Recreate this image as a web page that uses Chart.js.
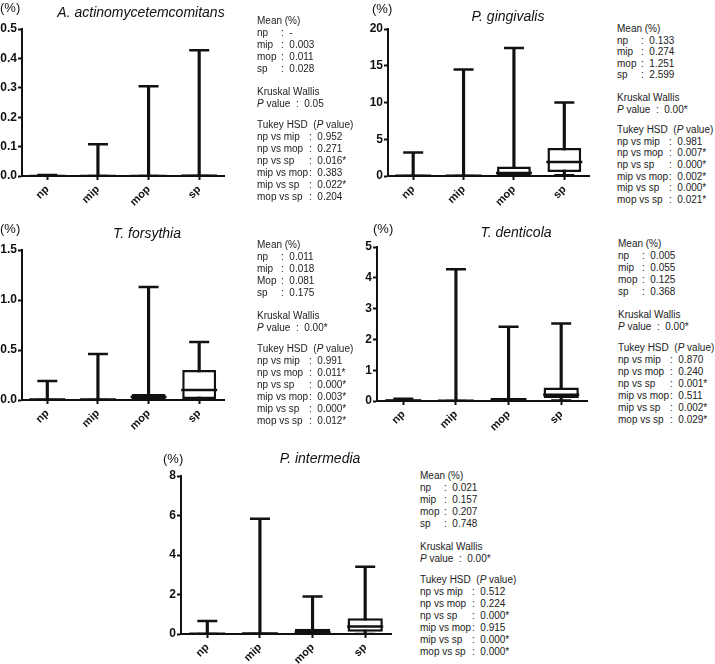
<!DOCTYPE html>
<html>
<head>
<meta charset="utf-8">
<script src="https://cdn.jsdelivr.net/npm/chart.js@4.4.0/dist/chart.umd.min.js"></script>
<style>
body { margin: 0; background: #fff; }
#fig { position: relative; width: 715px; height: 664px; font-family: Arial, "Liberation Sans", sans-serif; color: #111; overflow: hidden; }
.cv { position: absolute; }
.pct { position: absolute; font-size: 13px; transform: translateY(-50%); }
.ttl { position: absolute; font-size: 14px; font-style: italic; transform: translate(-50%, -50%); white-space: nowrap; }
.stats { position: absolute; font-size: 10px; line-height: 12px; white-space: pre; color: #222; }
.stats .lb { display: inline-block; }
</style>
</head>
<body>
<div id="fig">
  <canvas id="c1" class="cv" width="245" height="215" style="left:0px;top:0px"></canvas>
  <canvas id="c2" class="cv" width="250" height="215" style="left:360px;top:0px"></canvas>
  <canvas id="c3" class="cv" width="245" height="215" style="left:0px;top:222px"></canvas>
  <canvas id="c4" class="cv" width="253" height="215" style="left:355px;top:222px"></canvas>
  <canvas id="c5" class="cv" width="262" height="222" style="left:150px;top:442px"></canvas>

  <div class="pct" style="left:0px;top:7px">(%)</div>
  <div class="pct" style="left:372px;top:8px">(%)</div>
  <div class="pct" style="left:0px;top:228px">(%)</div>
  <div class="pct" style="left:373px;top:228px">(%)</div>
  <div class="pct" style="left:163px;top:458px">(%)</div>

  <div class="ttl" style="left:141px;top:12px">A. actinomycetemcomitans</div>
  <div class="ttl" style="left:508px;top:16px">P. gingivalis</div>
  <div class="ttl" style="left:147px;top:233px">T. forsythia</div>
  <div class="ttl" style="left:516px;top:232px">T. denticola</div>
  <div class="ttl" style="left:320px;top:458px">P. intermedia</div>

  <div id="s1" class="stats" style="left:257px;top:15px"></div>
  <div id="s2" class="stats" style="left:617px;top:23px"></div>
  <div id="s3" class="stats" style="left:257px;top:239px"></div>
  <div id="s4" class="stats" style="left:618px;top:238px"></div>
  <div id="s5" class="stats" style="left:420px;top:470px"></div>
</div>

<script>
// groups on the x axis
const categories = ['np', 'mip', 'mop', 'sp'];
const compLabels = ['np vs mip', 'np vs mop', 'np vs sp', 'mip vs mop', 'mip vs sp', 'mop vs sp'];

// A. actinomycetemcomitans (%)
const aaMin = [0, 0, 0, 0];
const aaQ1  = [0, 0, 0, 0];
const aaMed = [0, 0, 0, 0.001];
const aaQ3  = [0.002, 0.002, 0.002, 0.004];
const aaMax = [0.003, 0.108, 0.305, 0.428];
const aaTicks = [0, 0.1, 0.2, 0.3, 0.4, 0.5];
const aaMean = ['-', '0.003', '0.011', '0.028'];
const aaKW = '0.05';
const aaTukey = ['0.952', '0.271', '0.016*', '0.383', '0.022*', '0.204'];

// P. gingivalis (%)
const pgMin = [0, 0, 0, 0.1];
const pgQ1  = [0, 0.01, 0.05, 0.55];
const pgMed = [0.02, 0.05, 0.4, 1.9];
const pgQ3  = [0.1, 0.15, 1.3, 3.8];
const pgMax = [3.2, 14.5, 17.4, 10.0];
const pgTicks = [0, 5, 10, 15, 20];
const pgMean = ['0.133', '0.274', '1.251', '2.599'];
const pgKW = '0.00*';
const pgTukey = ['0.981', '0.007*', '0.000*', '0.002*', '0.000*', '0.021*'];

// T. forsythia (%)
const tfMin = [0, 0, 0, 0];
const tfQ1  = [0, 0, 0.01, 0.01];
const tfMed = [0.005, 0.005, 0.03, 0.1];
const tfQ3  = [0.01, 0.01, 0.06, 0.3];
const tfMax = [0.19, 0.46, 1.13, 0.58];
const tfTicks = [0, 0.5, 1.0, 1.5];
const tfMean = ['0.011', '0.018', '0.081', '0.175'];
const tfMeanLabels = ['np', 'mip', 'Mop', 'sp'];
const tfKW = '0.00*';
const tfTukey = ['0.991', '0.011*', '0.000*', '0.003*', '0.000*', '0.012*'];

// T. denticola (%)
const tdMin = [0, 0, 0, 0.02];
const tdQ1  = [0, 0, 0.02, 0.1];
const tdMed = [0.02, 0.01, 0.05, 0.2];
const tdQ3  = [0.05, 0.02, 0.1, 0.44];
const tdMax = [0.07, 4.28, 2.41, 2.52];
const tdTicks = [0, 1, 2, 3, 4, 5];
const tdMean = ['0.005', '0.055', '0.125', '0.368'];
const tdKW = '0.00*';
const tdTukey = ['0.870', '0.240', '0.001*', '0.511', '0.002*', '0.029*'];

// P. intermedia (%)
const piMin = [0, 0, 0, 0];
const piQ1  = [0, 0, 0.02, 0.12];
const piMed = [0.01, 0.02, 0.08, 0.38];
const piQ3  = [0.04, 0.06, 0.27, 0.8];
const piMax = [0.66, 5.83, 1.9, 3.4];
const piTicks = [0, 2, 4, 6, 8];
const piMean = ['0.021', '0.157', '0.207', '0.748'];
const piKW = '0.00*';
const piTukey = ['0.512', '0.224', '0.000*', '0.915', '0.000*', '0.000*'];

const ink = '#111';
const fontFam = 'Arial, "Liberation Sans", sans-serif';

function capSet(values, radius) {
    return {
        type: 'line',
        data: values,
        showLine: false,
        pointStyle: 'line',
        pointRadius: radius,
        pointHoverRadius: radius,
        pointBorderWidth: 2.5,
        pointBorderColor: ink,
        order: 0
    };
}

// box = floating bar q1..q3, whisker = thin floating bar min..max, caps/median = line points
function boxChart(id, mins, q1s, meds, q3s, maxs, ticks, decimals, geo) {
    const yMax = ticks[ticks.length - 1];
    new Chart(document.getElementById(id), {
        type: 'bar',
        data: {
            labels: categories,
            datasets: [
                {
                    data: mins.map((v, i) => [v, maxs[i]]),
                    backgroundColor: ink,
                    barThickness: 2.5,
                    grouped: false,
                    order: 3
                },
                {
                    data: q1s.map((v, i) => [v, q3s[i]]),
                    backgroundColor: '#fff',
                    borderColor: ink,
                    borderWidth: 2.5,
                    borderSkipped: false,
                    barPercentage: 0.67,
                    categoryPercentage: 1,
                    grouped: false,
                    order: 2
                },
                capSet(maxs, 10),
                capSet(mins, 10),
                capSet(meds, 18)
            ]
        },
        options: {
            responsive: false,
            animation: false,
            events: [],
            layout: { padding: { top: geo.top, right: geo.right, left: 0, bottom: 0 } },
            plugins: { legend: { display: false }, tooltip: { enabled: false } },
            scales: {
                x: {
                    offset: true,
                    grid: { drawOnChartArea: false, tickLength: 4, tickWidth: 2, tickColor: ink, offset: false },
                    border: { color: ink, width: 2 },
                    ticks: { color: ink, font: { family: fontFam, size: 11, weight: 'bold' }, minRotation: 45, maxRotation: 45, padding: 3 },
                    afterFit: s => { s.height = geo.xh; }
                },
                y: {
                    min: 0,
                    max: yMax,
                    afterBuildTicks: s => { s.ticks = ticks.map(v => ({ value: v })); },
                    grid: { drawOnChartArea: false, tickLength: 4, tickWidth: 2, tickColor: ink },
                    border: { color: ink, width: 2 },
                    ticks: { color: ink, font: { family: fontFam, size: 12, weight: 'bold' }, padding: 1, callback: v => v.toFixed(decimals) },
                    afterFit: s => { s.width = geo.yw; }
                }
            }
        }
    });
}

boxChart('c1', aaMin, aaQ1, aaMed, aaQ3, aaMax, aaTicks, 1, { top: 29, right: 3, yw: 22, xh: 39 });
boxChart('c2', pgMin, pgQ1, pgMed, pgQ3, pgMax, pgTicks, 0, { top: 29, right: 3, yw: 28, xh: 39 });
boxChart('c3', tfMin, tfQ1, tfMed, tfQ3, tfMax, tfTicks, 1, { top: 28, right: 3, yw: 22, xh: 37 });
boxChart('c4', tdMin, tdQ1, tdMed, tdQ3, tdMax, tdTicks, 0, { top: 25, right: 3, yw: 22, xh: 36 });
boxChart('c5', piMin, piQ1, piMed, piQ3, piMax, piTicks, 0, { top: 34, right: 5, yw: 31, xh: 30 });

// statistics text next to each panel
function statsBlock(id, meanLabels, means, kw, tukey, lh) {
    const el = document.getElementById(id);
    el.style.lineHeight = lh + 'px';
    let html = '<div>Mean (%)</div>';
    meanLabels.forEach((lab, i) => {
        html += '<div><span class="lb" style="width:24px">' + lab + '</span>:  ' + means[i] + '</div>';
    });
    html += '<div style="margin-top:11px">Kruskal Wallis</div>';
    html += '<div><i>P</i> value  :  ' + kw + '</div>';
    html += '<div style="margin-top:9px">Tukey HSD  (<i>P</i> value)</div>';
    compLabels.forEach((lab, i) => {
        html += '<div><span class="lb" style="width:52px">' + lab + '</span>:  ' + tukey[i] + '</div>';
    });
    el.innerHTML = html;
}

statsBlock('s1', categories, aaMean, aaKW, aaTukey, 12);
statsBlock('s2', categories, pgMean, pgKW, pgTukey, 11.6);
statsBlock('s3', tfMeanLabels, tfMean, tfKW, tfTukey, 12);
statsBlock('s4', categories, tdMean, tdKW, tdTukey, 12);
statsBlock('s5', categories, piMean, piKW, piTukey, 12);
</script>
</body>
</html>
